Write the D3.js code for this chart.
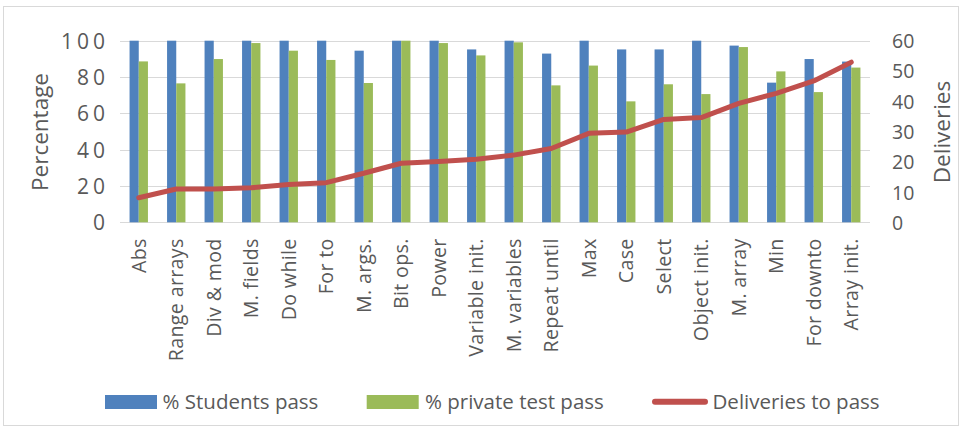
<!DOCTYPE html>
<html>
<head>
<meta charset="utf-8">
<script src="https://cdn.jsdelivr.net/npm/d3@7"></script>
<style>
  html, body { margin: 0; padding: 0; background: #fff; }
  svg { display: block; }
  text { font-family: "Open Sans", sans-serif; fill: #595959; }
</style>
</head>
<body>
<svg id="chart" width="962" height="429"></svg>
<script>
// Exercise categories, in order of increasing deliveries needed
const categories = ["Abs", "Range arrays", "Div & mod", "M. fields", "Do while", "For to",
  "M. args.", "Bit ops.", "Power", "Variable init.", "M. variables", "Repeat until",
  "Max", "Case", "Select", "Object init.", "M. array", "Min", "For downto", "Array init."];

// % of students that passed
const studentsPass = [100, 100, 100, 100, 100, 100, 94.5, 100, 100, 95.2, 100, 92.9,
  100, 95.2, 95.2, 100, 97.3, 76.9, 89.9, 88.5];

// % of private tests passed
const privateTestPass = [88.6, 76.5, 89.9, 98.7, 94.5, 89.4, 76.7, 100, 98.7, 91.9, 99.1, 75.4,
  86.3, 66.6, 76.0, 70.6, 96.5, 83.1, 71.7, 85.2];

// Average number of deliveries needed to pass (right axis)
const deliveries = [8.1, 11.0, 11.0, 11.4, 12.5, 13.1, 16.2, 19.5, 20.1, 20.8, 22.2, 24.4,
  29.4, 29.8, 34.0, 34.6, 39.3, 42.6, 46.7, 52.9];

const leftTicks = [0, 20, 40, 60, 80, 100];
const rightTicks = [0, 10, 20, 30, 40, 50, 60];

const seriesNames = ["% Students pass", "% private test pass", "Deliveries to pass"];
const colors = { blue: "#4F81BD", green: "#9BBB59", red: "#C0504D", grid: "#D9D9D9" };

const svg = d3.select("#chart");
const plot = { left: 120, right: 870, top: 40.7, bottom: 222.3 };

// outer frame
svg.append("rect")
  .attr("x", 3.5).attr("y", 6.5).attr("width", 955).attr("height", 419)
  .attr("fill", "none").attr("stroke", colors.grid).attr("stroke-width", 1);

const x = d3.scaleBand().domain(categories).range([plot.left, plot.right]).padding(0);
const yL = d3.scaleLinear().domain([0, 100]).range([plot.bottom, plot.top]);
const yR = d3.scaleLinear().domain([0, 60]).range([plot.bottom, plot.top]);
const barW = x.bandwidth() * 0.245;

// horizontal gridlines
svg.append("g").selectAll("line").data(leftTicks).join("line")
  .attr("x1", plot.left).attr("x2", plot.right)
  .attr("y1", d => Math.round(yL(d)) + 0.5).attr("y2", d => Math.round(yL(d)) + 0.5)
  .attr("stroke", colors.grid).attr("stroke-width", 1.2);

// left axis tick labels (slightly spaced digits)
const leftSpacing = 4;
const leftAxis = d3.axisLeft(yL).tickValues(leftTicks).tickSize(0).tickPadding(0);
const gL = svg.append("g").attr("transform", `translate(${105 + leftSpacing},0)`).call(leftAxis);
gL.select(".domain").remove();
gL.selectAll("text")
  .attr("font-family", "Open Sans").attr("font-size", 21).attr("fill", "#595959")
  .attr("letter-spacing", leftSpacing).attr("dy", "0.36em");

// right axis tick labels
const rightAxis = d3.axisRight(yR).tickValues(rightTicks).tickSize(0).tickPadding(0);
const gR = svg.append("g").attr("transform", `translate(892,0)`).call(rightAxis);
gR.select(".domain").remove();
gR.selectAll("text")
  .attr("font-family", "Open Sans").attr("font-size", 19.5).attr("fill", "#595959")
  .attr("dy", "0.36em");

// bars
const cx = c => x(c) + x.bandwidth() / 2;
svg.append("g").selectAll("rect").data(categories).join("rect")
  .attr("x", (c) => cx(c) - barW)
  .attr("y", (c, i) => yL(studentsPass[i]))
  .attr("width", barW)
  .attr("height", (c, i) => yL(0) - yL(studentsPass[i]))
  .attr("fill", colors.blue);
svg.append("g").selectAll("rect").data(categories).join("rect")
  .attr("x", (c) => cx(c))
  .attr("y", (c, i) => yL(privateTestPass[i]))
  .attr("width", barW)
  .attr("height", (c, i) => yL(0) - yL(privateTestPass[i]))
  .attr("fill", colors.green);

// deliveries line
const line = d3.line().x((d, i) => cx(categories[i])).y(d => yR(d));
svg.append("path").datum(deliveries)
  .attr("d", line).attr("fill", "none")
  .attr("stroke", colors.red).attr("stroke-width", 5)
  .attr("stroke-linejoin", "round").attr("stroke-linecap", "round");

// category labels
const xAxis = d3.axisBottom(x).tickSize(0).tickPadding(0);
const gX = svg.append("g").attr("transform", `translate(0,238.3)`).call(xAxis);
gX.select(".domain").remove();
gX.selectAll("text")
  .attr("font-family", "Open Sans").attr("font-size", 19.6).attr("fill", "#595959")
  .attr("letter-spacing", 0.35)
  .attr("text-anchor", "end")
  .attr("transform", "rotate(-90)")
  .attr("x", 0).attr("y", 0).attr("dy", "0.36em");

// axis titles
svg.append("text").attr("transform", "translate(40,132) rotate(-90)")
  .attr("text-anchor", "middle").attr("dy", "0.36em")
  .attr("font-size", 22.5).text("Percentage");
svg.append("text").attr("transform", "translate(941.5,132) rotate(-90)")
  .attr("text-anchor", "middle").attr("dy", "0.36em")
  .attr("font-size", 22.5).text("Deliveries");

// legend
const legend = svg.append("g").attr("font-size", 20.5);
legend.append("rect").attr("x", 105).attr("y", 395).attr("width", 52).attr("height", 14)
  .attr("fill", colors.blue);
legend.append("text").attr("x", 162.5).attr("y", 409).text(seriesNames[0]);
legend.append("rect").attr("x", 366.7).attr("y", 395).attr("width", 52).attr("height", 14)
  .attr("fill", colors.green);
legend.append("text").attr("x", 425).attr("y", 409).text(seriesNames[1]);
legend.append("line").attr("x1", 655).attr("x2", 705).attr("y1", 401.7).attr("y2", 401.7)
  .attr("stroke", colors.red).attr("stroke-width", 6).attr("stroke-linecap", "round");
legend.append("text").attr("x", 712.5).attr("y", 409).text(seriesNames[2]);
</script>
</body>
</html>
